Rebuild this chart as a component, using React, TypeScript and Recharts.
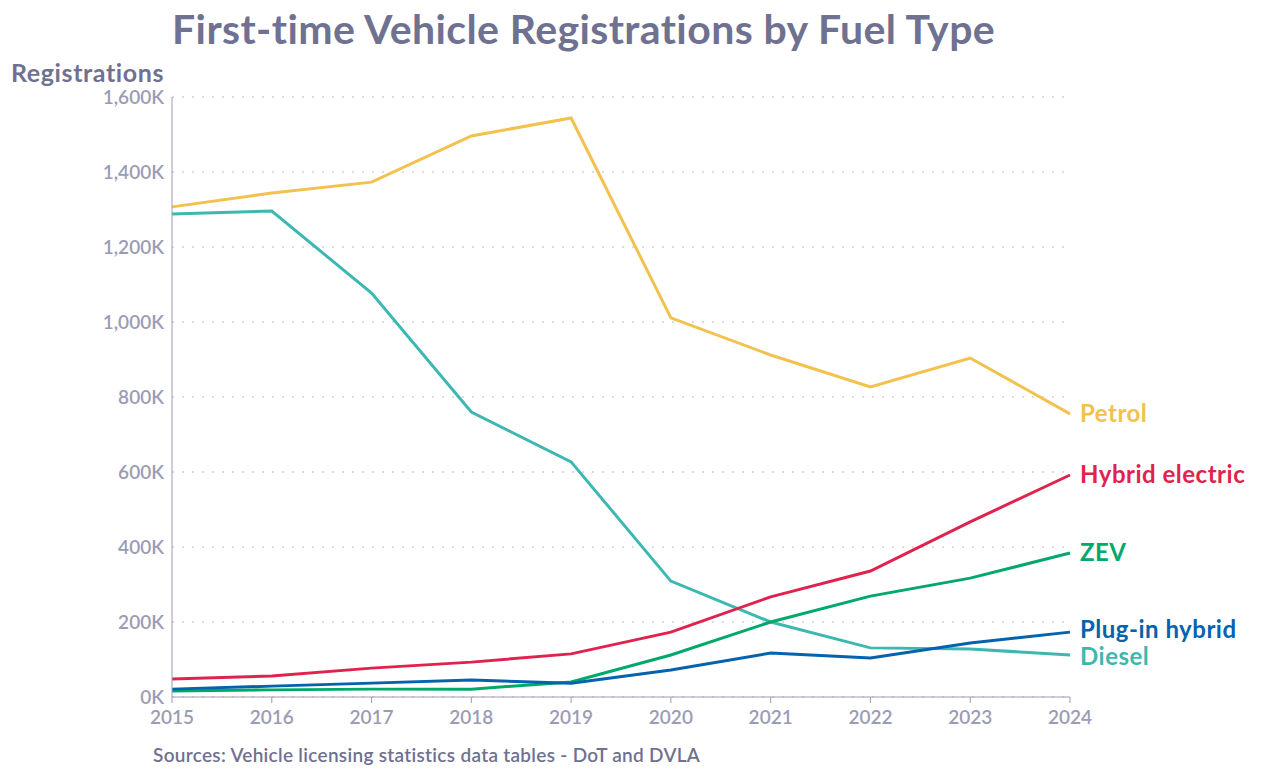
import React from "react";
import { CartesianGrid, Line, LineChart, XAxis, YAxis } from "recharts";

const years = [2015, 2016, 2017, 2018, 2019, 2020, 2021, 2022, 2023, 2024];
const petrol = [1307, 1344, 1373, 1496, 1544, 1011, 912, 827, 904, 755];
const diesel = [1288, 1296, 1077, 760, 627, 309, 200, 131, 128, 112];
const hybrid = [48, 56, 77, 93, 115, 173, 267, 336, 467, 592];
const zev = [16, 19, 21, 21, 40, 112, 200, 269, 317, 384];
const plugin = [21, 29, 37, 45, 37, 72, 117, 104, 144, 173];
const yTicks = [0, 200, 400, 600, 800, 1000, 1200, 1400, 1600];

const SERIES = [
  { key: "petrol", name: "Petrol", color: "#f2c14e", dy: 0 },
  { key: "diesel", name: "Diesel", color: "#3db8b1", dy: 2 },
  { key: "hybrid", name: "Hybrid electric", color: "#e0234e", dy: 0 },
  { key: "zev", name: "ZEV", color: "#00a86b", dy: 0 },
  { key: "plugin", name: "Plug-in hybrid", color: "#0562ad", dy: -2 },
];

const data = years.map((y, i) => ({
  year: y,
  petrol: petrol[i],
  diesel: diesel[i],
  hybrid: hybrid[i],
  zev: zev[i],
  plugin: plugin[i],
}));

const FONT = "Lato, 'Open Sans', sans-serif";
const GREY = "#9b9cb3";

function fmt(v: number): string {
  return v.toLocaleString("en-US") + "K";
}

export default function App() {
  return (
    <div style={{ position: "relative", width: 1272, height: 776, margin: -8, fontFamily: FONT }}>
      <div style={{ position: "absolute", left: 172, top: 4, fontSize: 41, fontWeight: 700, color: "#6f7190", letterSpacing: 0.4 }}>
        First-time Vehicle Registrations by Fuel Type
      </div>
      <div style={{ position: "absolute", left: 11, top: 57, fontSize: 25, fontWeight: 700, color: "#6f7190", letterSpacing: 0.6 }}>
        Registrations
      </div>
      <div style={{ position: "absolute", left: 153, top: 743, fontSize: 19, fontWeight: 600, color: "#6f7190", letterSpacing: 0.3 }}>
        Sources: Vehicle licensing statistics data tables - DoT and DVLA
      </div>
      <LineChart width={1272} height={776} data={data} margin={{ top: 97, right: 202, left: 12, bottom: 49 }}>
        <CartesianGrid vertical={false} stroke="#b8b9c8" strokeDasharray="2 8" />
        <XAxis
          dataKey="year"
          type="number"
          domain={[2015, 2024]}
          ticks={years}
          height={30}
          tick={{ fill: GREY, fontSize: 19, fontWeight: 600, fontFamily: FONT, dy: 6 }}
          stroke={GREY}
          tickSize={6}
        />
        <YAxis
          width={160}
          domain={[0, 1600]}
          ticks={yTicks}
          tickFormatter={fmt}
          tick={{ fill: GREY, fontSize: 19, fontWeight: 600, fontFamily: FONT }}
          stroke={GREY}
          tickLine={false}
        />
        {SERIES.map((s) => (
          <Line
            key={s.key}
            dataKey={s.key}
            stroke={s.color}
            strokeWidth={3}
            dot={false}
            isAnimationActive={false}
            label={(p: any) =>
              p.index === years.length - 1 ? (
                <text
                  key={s.key}
                  x={p.x + 10}
                  y={p.y + s.dy}
                  dy={8}
                  fill={s.color}
                  fontSize={24}
                  fontWeight={700}
                  fontFamily={FONT}
                  letterSpacing={0.5}
                >
                  {s.name}
                </text>
              ) : (
                <g key={p.index} />
              )
            }
          />
        ))}
      </LineChart>
    </div>
  );
}
